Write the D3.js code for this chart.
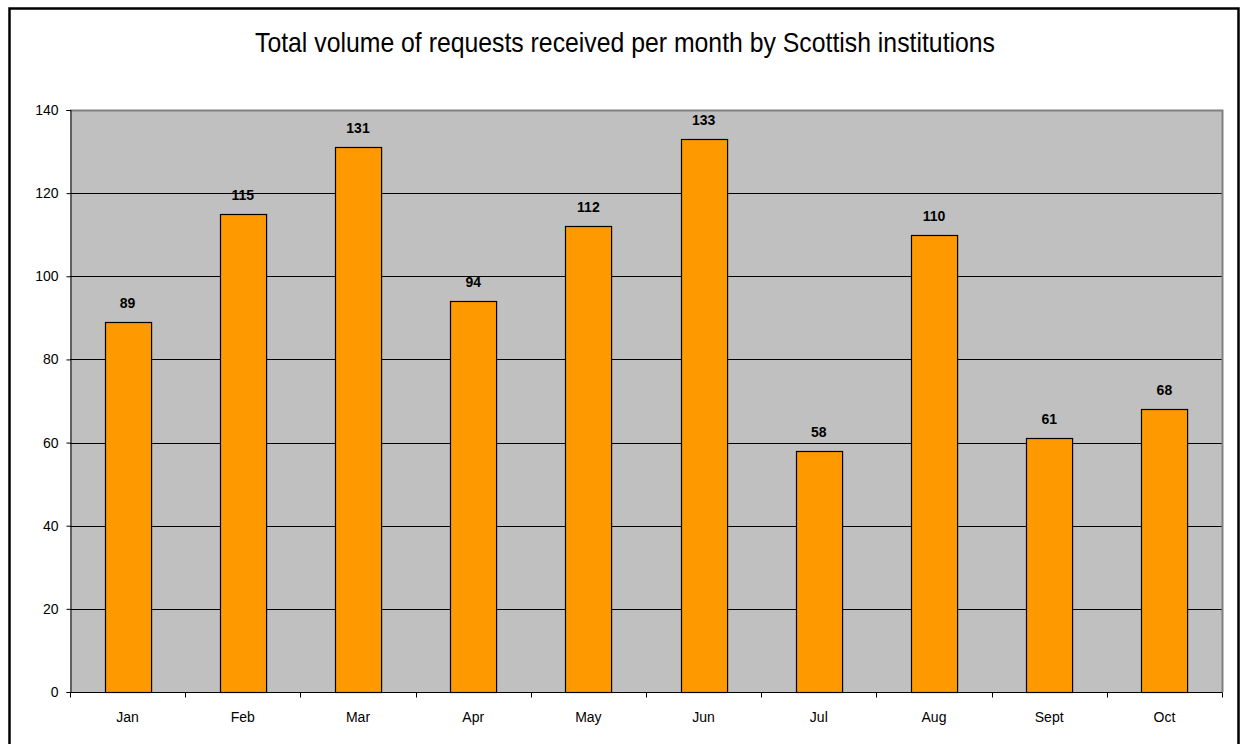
<!DOCTYPE html>
<html>
<head>
<meta charset="utf-8">
<script src="https://cdn.jsdelivr.net/npm/d3@7"></script>
<style>
  body { margin: 0; background: #fff; }
  svg { display: block; }
</style>
</head>
<body>
<div id="chart"></div>
<script>
// data
const months = ["Jan","Feb","Mar","Apr","May","Jun","Jul","Aug","Sept","Oct"];
const requests = [89,115,131,94,112,133,58,110,61,68];
const yTicks = [0,20,40,60,80,100,120,140];

const W = 1245, H = 744;
const plot = { left: 70, top: 110, right: 1222, bottom: 692 };

const svg = d3.select("#chart").append("svg")
    .attr("width", W).attr("height", H);

// outer frame
svg.append("rect")
    .attr("x", 9.5).attr("y", 8.5)
    .attr("width", 1229).attr("height", 760)
    .attr("fill","white").attr("stroke","black").attr("stroke-width",2.5);

// title is a narrow face in the original, squeeze it to the same width
svg.append("text")
    .attr("x", 625).attr("y", 52)
    .attr("text-anchor","middle")
    .attr("font-family","'Liberation Sans Narrow', 'Arial Narrow', 'Liberation Sans', Arial, sans-serif")
    .attr("font-size", 28)
    .attr("textLength", 740).attr("lengthAdjust","spacingAndGlyphs")
    .attr("fill","black")
    .text("Total volume of requests received per month by Scottish institutions");

const x = d3.scaleBand()
    .domain(months)
    .range([plot.left, plot.right])
    .paddingInner(0.6).paddingOuter(0.3);

const y = d3.scaleLinear()
    .domain([0, 140])
    .range([plot.bottom, plot.top]);

// plot background
svg.append("rect")
    .attr("x", plot.left).attr("y", plot.top)
    .attr("width", plot.right - plot.left).attr("height", plot.bottom - plot.top)
    .attr("fill","#c0c0c0");

// gridlines
svg.append("g")
  .selectAll("line")
  .data(yTicks.filter(d => d > 0 && d < 140))
  .join("line")
    .attr("x1", plot.left).attr("x2", plot.right)
    .attr("y1", d => Math.round(y(d)) + 0.5).attr("y2", d => Math.round(y(d)) + 0.5)
    .attr("stroke","black").attr("stroke-width",1);

// gray top/right borders of plot
svg.append("path")
    .attr("d", "M" + plot.left + "," + (plot.top + 0.5) + "H" + (plot.right + 0.5) + "V" + plot.bottom)
    .attr("fill","none").attr("stroke","#808080").attr("stroke-width",2);

// bars
svg.append("g")
  .selectAll("rect")
  .data(months)
  .join("rect")
    .attr("x", d => Math.round(x(d)) + 0.5)
    .attr("y", (d,i) => Math.round(y(requests[i])) + 0.5)
    .attr("width", x.bandwidth())
    .attr("height", (d,i) => y(0) - Math.round(y(requests[i])))
    .attr("fill","#ff9900").attr("stroke","black").attr("stroke-width",1.2);

// value labels
svg.append("g")
  .selectAll("text")
  .data(months)
  .join("text")
    .attr("x", d => x(d) + x.bandwidth() / 2)
    .attr("y", (d,i) => y(requests[i]) - 14)
    .attr("text-anchor","middle")
    .attr("font-family","'Liberation Sans', Arial, sans-serif")
    .attr("font-size", 14).attr("font-weight","bold")
    .text((d,i) => requests[i]);

// y axis
const yAxis = svg.append("g")
    .attr("transform", "translate(" + (plot.left + 0.5) + ",0)")
    .call(d3.axisLeft(y).tickValues(yTicks).tickSize(4).tickPadding(8));
yAxis.selectAll("text")
    .attr("font-family","'Liberation Sans', Arial, sans-serif")
    .attr("font-size", 14).attr("fill","black");
yAxis.selectAll("line, path").attr("stroke","black");

// x axis with ticks at category boundaries
const xAxisG = svg.append("g")
    .attr("transform", "translate(0," + (plot.bottom + 0.5) + ")");
xAxisG.append("line")
    .attr("x1", plot.left).attr("x2", plot.right + 0.5)
    .attr("stroke","black");
const step = x.step();
xAxisG.selectAll("line.tick")
  .data(d3.range(months.length + 1))
  .join("line")
    .attr("class","tick")
    .attr("x1", i => Math.round(plot.left + i * step) + 0.5)
    .attr("x2", i => Math.round(plot.left + i * step) + 0.5)
    .attr("y1", 0).attr("y2", 5)
    .attr("stroke","black");
xAxisG.selectAll("text")
  .data(months)
  .join("text")
    .attr("x", d => x(d) + x.bandwidth() / 2)
    .attr("y", 29)
    .attr("text-anchor","middle")
    .attr("font-family","'Liberation Sans', Arial, sans-serif")
    .attr("font-size", 14)
    .text(d => d);
</script>
</body>
</html>
